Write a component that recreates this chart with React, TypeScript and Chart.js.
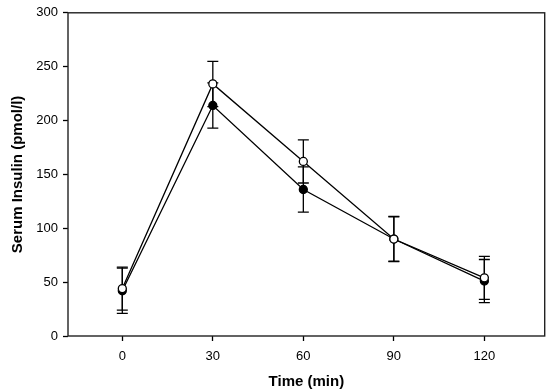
import React, { useEffect, useRef } from "react";
import { Chart, registerables } from "chart.js";

Chart.register(...registerables);

const times = [0, 30, 60, 90, 120];
const filledValues = [42, 214, 136, 90, 51];
const filledErrors = [21, 21, 21, 21, 20];
const openValues = [44, 234, 162, 90, 54];
const openErrors = [20, 21, 20, 20.5, 20];
const xTicks = [0, 30, 60, 90, 120];
const yTicks = [0, 50, 100, 150, 200, 250, 300];

const FONT = "'Liberation Sans', Arial, sans-serif";

const errorBarPlugin = {
  id: "errorBars",
  beforeDatasetsDraw(chart: any) {
    const ctx = chart.ctx;
    const xs = chart.scales.x;
    const ys = chart.scales.y;
    ctx.save();
    ctx.strokeStyle = "#000";
    ctx.lineWidth = 1.3;
    chart.data.datasets.forEach((ds: any) => {
      const errs: number[] = ds.errors;
      ds.data.forEach((p: any, i: number) => {
        const x = xs.getPixelForValue(p.x);
        const yTop = ys.getPixelForValue(p.y + errs[i]);
        const yBot = ys.getPixelForValue(p.y - errs[i]);
        ctx.beginPath();
        ctx.moveTo(x, yTop);
        ctx.lineTo(x, yBot);
        ctx.moveTo(x - 5.5, yTop);
        ctx.lineTo(x + 5.5, yTop);
        ctx.moveTo(x - 5.5, yBot);
        ctx.lineTo(x + 5.5, yBot);
        ctx.stroke();
      });
    });
    ctx.restore();
  },
  afterDraw(chart: any) {
    const { left, right, top, bottom } = chart.chartArea;
    const ctx = chart.ctx;
    ctx.save();
    ctx.strokeStyle = "#222";
    ctx.lineWidth = 1.4;
    ctx.strokeRect(left, top, right - left, bottom - top);
    ctx.restore();
  },
};

export default function App() {
  const ref = useRef<HTMLCanvasElement>(null);
  useEffect(() => {
    if (!ref.current) return;
    const chart = new Chart(ref.current, {
      type: "line",
      data: {
        datasets: [
          {
            label: "open",
            data: times.map((t, i) => ({ x: t, y: openValues[i] })),
            errors: openErrors,
            borderColor: "#000",
            borderWidth: 1.3,
            backgroundColor: "#fff",
            pointBackgroundColor: "#fff",
            pointBorderColor: "#000",
            pointBorderWidth: 1.3,
            pointRadius: 4,
            tension: 0,
          } as any,
          {
            label: "filled",
            data: times.map((t, i) => ({ x: t, y: filledValues[i] })),
            errors: filledErrors,
            borderColor: "#000",
            borderWidth: 1.3,
            backgroundColor: "#000",
            pointBackgroundColor: "#000",
            pointBorderColor: "#000",
            pointBorderWidth: 1.3,
            pointRadius: 4,
            tension: 0,
          } as any,
        ],
      },
      options: {
        animation: false,
        responsive: false,
        layout: { padding: { left: 0, top: 12, right: 4, bottom: 0 } },
        plugins: { legend: { display: false }, tooltip: { enabled: false } },
        scales: {
          x: {
            type: "linear",
            min: -18,
            max: 140,
            afterBuildTicks: (s: any) => {
              s.ticks = xTicks.map((v) => ({ value: v }));
            },
            afterFit: (s: any) => {
              s.height = 56;
            },
            grid: {
              drawOnChartArea: false,
              drawTicks: true,
              tickLength: 5,
              tickColor: "#000",
              tickWidth: 1.3,
            },
            border: { display: false },
            ticks: {
              color: "#000",
              font: { family: FONT, size: 13 },
              padding: 8,
              maxRotation: 0,
            },
            title: {
              display: true,
              text: "Time (min)",
              color: "#000",
              font: { family: FONT, size: 15, weight: "bold" },
              padding: { top: 0, bottom: 1.5 },
            },
          },
          y: {
            type: "linear",
            min: 0,
            max: 300,
            afterBuildTicks: (s: any) => {
              s.ticks = yTicks.map((v) => ({ value: v }));
            },
            afterFit: (s: any) => {
              s.width = 68;
            },
            grid: {
              drawOnChartArea: false,
              drawTicks: true,
              tickLength: 5,
              tickColor: "#000",
              tickWidth: 1.3,
            },
            border: { display: false },
            ticks: {
              color: "#000",
              font: { family: FONT, size: 13 },
              padding: 5,
            },
            title: {
              display: true,
              text: "Serum Insulin (pmol/l)",
              color: "#000",
              font: { family: FONT, size: 15, weight: "bold" },
              padding: { top: 9, bottom: 0 },
            },
          },
        },
      } as any,
      plugins: [errorBarPlugin],
    });
    return () => chart.destroy();
  }, []);
  return (
    <div style={{ position: "fixed", left: 0, top: 0, width: 550, height: 392, background: "#fff" }}>
      <canvas ref={ref} width={550} height={392} style={{ width: 550, height: 392 }} />
    </div>
  );
}
